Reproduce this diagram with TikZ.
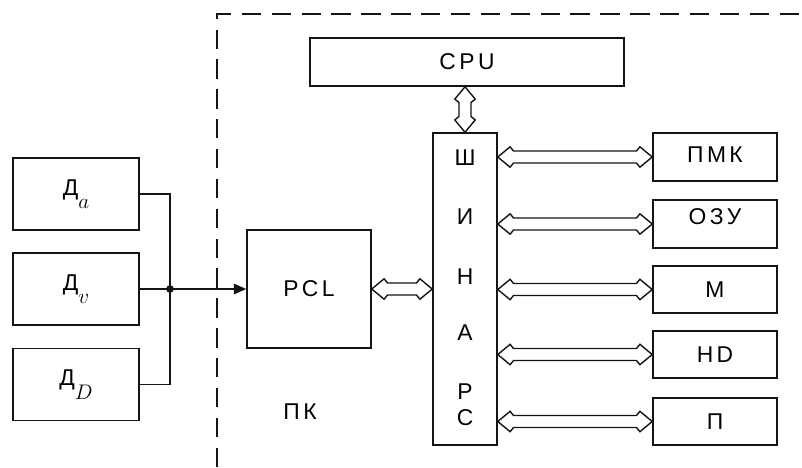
\documentclass[tikz,border=0pt]{standalone}
\usepackage{fontspec}
\setmainfont{Liberation Sans}[LetterSpace=15]
\usepackage{tikz}
\usetikzlibrary{positioning,arrows.meta,calc}
\definecolor{ink}{RGB}{20,20,20}
\tikzset{
  blk/.style={draw=ink, line width=0.9pt, minimum width=#1, minimum height=0.95cm, inner sep=0pt, font=\fontsize{13}{15}\selectfont},
  blk/.default={2.48cm},
  sens/.style={draw=ink, line width=0.9pt, minimum width=2.52cm, minimum height=1.44cm, inner sep=0pt, font=\fontsize{13}{15}\selectfont},
  busl/.style={font=\fontsize{13}{15}\selectfont, inner sep=0pt},
  wire/.style={draw=ink, line width=0.8pt},
  dblline/.style={draw=ink, line width=0.8pt, line join=miter},
  frame/.style={draw=ink, line width=0.9pt, dash pattern=on 11pt off 6pt}
}
\newcommand{\dsub}[1]{Д\raisebox{-1.1ex}{\large$#1$}}
% hollow two-headed bus arrow between two points
\newcommand{\dblink}[2]{\draw[dblline] let \p1=(#1), \p2=(#2) in
  (\p1) -- ($(\p1)!7pt!(\p2)!5.8pt!90:(\p2)$) -- ($(\p1)!9pt!(\p2)!3.4pt!90:(\p2)$)
  -- ($(\p2)!9pt!(\p1)!3.4pt!-90:(\p1)$) -- ($(\p2)!7pt!(\p1)!5.8pt!-90:(\p1)$) -- (\p2)
  -- ($(\p2)!7pt!(\p1)!5.8pt!90:(\p1)$) -- ($(\p2)!9pt!(\p1)!3.4pt!90:(\p1)$)
  -- ($(\p1)!9pt!(\p2)!3.4pt!-90:(\p2)$) -- ($(\p1)!7pt!(\p2)!5.8pt!-90:(\p2)$) -- cycle;}
\begin{document}
\begin{tikzpicture}[x=0.02cm,y=-0.02cm]
    \useasboundingbox (0,0) rectangle (802,467);
    % PC boundary
    \draw[frame] (217,467) -- (217,14) -- (802,14);
    % sensors
    \node[sens] (da) at (76,194) {\dsub{a}};
    \node[sens] (dv) at (76,289) {\dsub{v}};
    \node[sens] (dd) at (76,384.5) {\dsub{D}};
    \node[blk, minimum height=2.36cm] (pcl) at (309,289) {PCL};
    \node[blk=6.28cm, minimum height=0.96cm] (cpu) at (467,62) {CPU};
    \node[blk=1.28cm, minimum height=6.24cm] (bus) at (465,289) {};
    \node[busl] (pk) at (300,412) {ПК};
    % bus letters
    \foreach \l/\y [count=\i] in {Ш/158,И/217,Н/277,А/333,Р/392,С/418}
      \node[busl] (bl\i) at (bus.center |- 0,\y) {\l};
    % peripherals
    \node[blk] (pmk) at (715,157) {\raisebox{-3pt}[0pt][0pt]{ПМК}};
    \node[blk] (ozu) at (715,224) {\raisebox{0pt}[0pt][0pt]{ОЗУ}};
    \node[blk] (mon) at (715,289.5) {М};
    \node[blk] (hd) at (715,354.5) {HD};
    \node[blk] (prn) at (715,421.5) {П};
    % connections
    \coordinate (jn) at (170,289);
    \draw[wire] (da.east) -| (jn) |- (dd.east);
    \draw[wire, -{Triangle[length=7pt,width=6pt]}] (dv.east) -- (pcl.west);
    \fill[ink] (jn) circle (2.2pt);
    \dblink{pcl.east}{bus.west}
    \dblink{bus.north |- cpu.south}{bus.north}
    \foreach \b in {pmk,ozu,mon,hd,prn} {\dblink{\b.west -| bus.east}{\b.west}}
\end{tikzpicture}
\end{document}
